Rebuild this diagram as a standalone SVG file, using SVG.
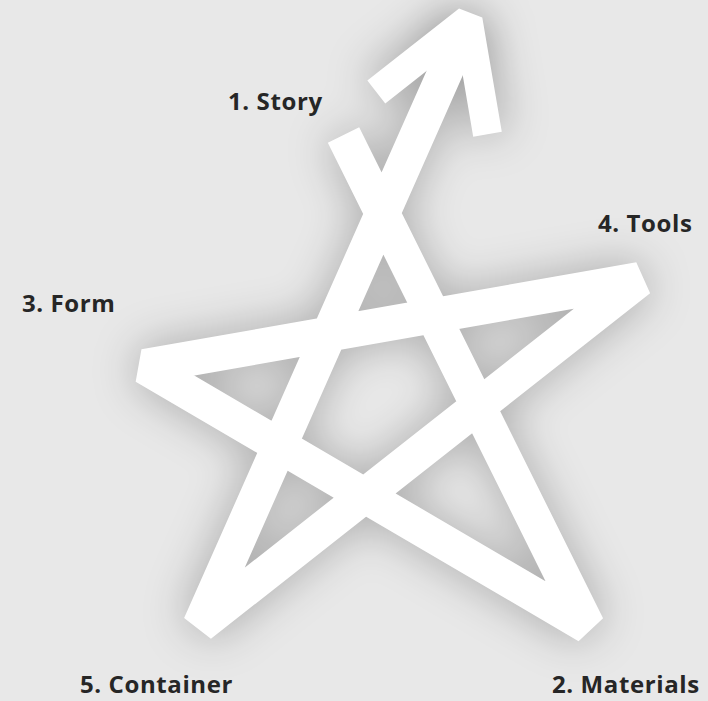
<svg xmlns="http://www.w3.org/2000/svg" width="708" height="701" viewBox="0 0 708 701">
  <defs>
    <filter id="soft" x="-20%" y="-20%" width="140%" height="140%">
      <feGaussianBlur stdDeviation="22"/>
    </filter>
    <style>
      .lbl { font-family: "Open Sans", "Liberation Sans", sans-serif; font-weight: bold; font-size: 24px; fill: #262626; letter-spacing: 0.6px; }
      .star { fill: none; stroke: #ffffff; stroke-width: 35; stroke-linejoin: bevel; stroke-linecap: butt; }
      .head { fill: none; stroke: #ffffff; stroke-width: 29; stroke-linejoin: bevel; stroke-linecap: butt; }
      .shade { fill: none; stroke: #000000; stroke-opacity: 0.25; stroke-width: 40; stroke-linejoin: bevel; }
    </style>
  </defs>
  <rect x="0" y="0" width="708" height="701" fill="#e8e8e8"/>
  <g id="connectors">
    <g filter="url(#soft)">
      <path class="shade" d="M343.5,135 L587.4,626.1 L144.5,366.6 L639.3,279.4 L200.1,625.1 L463.8,30"/>
      <path class="shade" d="M376.3,92 L468,19.9 L487.5,134.2"/>
    </g>
    <path id="star" class="star" d="M343.5,135 L587.4,626.1 L144.5,366.6 L639.3,279.4 L200.1,625.1 L463.8,30"/>
    <path id="arrowhead" class="head" d="M376.3,92 L468,19.9 L487.5,134.2"/>
  </g>
  <g id="node-story"><text class="lbl" x="228" y="110">1. Story</text></g>
  <g id="node-materials"><text class="lbl" x="552" y="693">2. Materials</text></g>
  <g id="node-form"><text class="lbl" x="22" y="312">3. Form</text></g>
  <g id="node-tools"><text class="lbl" x="598" y="232">4. Tools</text></g>
  <g id="node-container"><text class="lbl" x="80" y="693">5. Container</text></g>
</svg>
